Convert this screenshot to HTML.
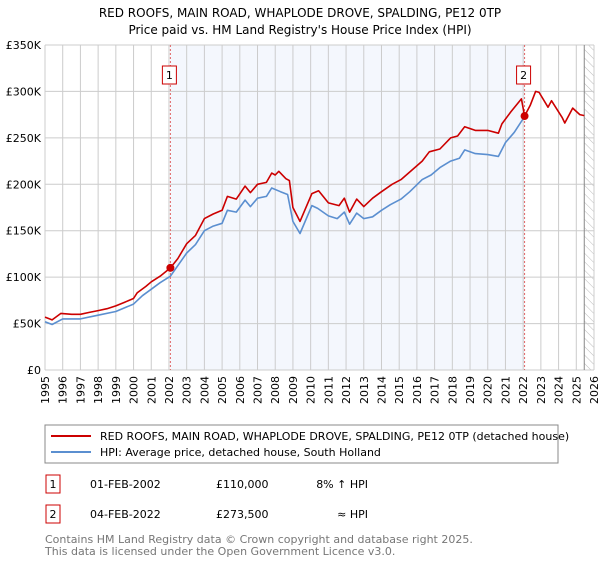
<!DOCTYPE html>
<html><head><meta charset="utf-8"><style>
body{margin:0;width:600px;height:560px;background:#fff;font-family:"DejaVu Sans","Liberation Sans",sans-serif;overflow:hidden}
</style></head><body>
<svg id="chart" width="600" height="560" xmlns="http://www.w3.org/2000/svg" font-family="DejaVu Sans, Liberation Sans, sans-serif">
<text x="300" y="17" text-anchor="middle" font-size="12">RED ROOFS, MAIN ROAD, WHAPLODE DROVE, SPALDING, PE12 0TP</text>
<text x="300" y="34" text-anchor="middle" font-size="12">Price paid vs. HM Land Registry's House Price Index (HPI)</text>
<defs><pattern id="hatch" width="6" height="6" patternUnits="userSpaceOnUse" patternTransform="rotate(-45)"><line x1="0" y1="0" x2="0" y2="6" stroke="#bbb" stroke-width="1"/></pattern></defs>
<g id="grid"></g><g id="axes"></g><g id="series"></g>
<rect x="45" y="425" width="513" height="38" fill="#fff" stroke="#888"/>
<line x1="51" y1="436" x2="91" y2="436" stroke="#cc0000" stroke-width="2"/>
<text x="100" y="440" font-size="11">RED ROOFS, MAIN ROAD, WHAPLODE DROVE, SPALDING, PE12 0TP (detached house)</text>
<line x1="51" y1="452" x2="91" y2="452" stroke="#5b8fd0" stroke-width="2"/>
<text x="100" y="456" font-size="11">HPI: Average price, detached house, South Holland</text>
<g font-size="11">
<rect x="46" y="475" width="14" height="18" fill="#fff" stroke="#cc0000"/>
<text x="53" y="488" text-anchor="middle">1</text>
<text x="90" y="488">01-FEB-2002</text>
<text x="216" y="488">£110,000</text>
<text x="368" y="488" text-anchor="end">8% ↑ HPI</text>
<rect x="46" y="505" width="14" height="18" fill="#fff" stroke="#cc0000"/>
<text x="53" y="518" text-anchor="middle">2</text>
<text x="90" y="518">04-FEB-2022</text>
<text x="216" y="518">£273,500</text>
<text x="368" y="518" text-anchor="end">≈ HPI</text>
</g>
<text x="45" y="543" font-size="11" fill="#777">Contains HM Land Registry data © Crown copyright and database right 2025.</text>
<text x="45" y="555" font-size="11" fill="#777">This data is licensed under the Open Government Licence v3.0.</text>
</svg>
<script>
const yearTicks=[1995,1996,1997,1998,1999,2000,2001,2002,2003,2004,2005,2006,2007,2008,2009,2010,2011,2012,2013,2014,2015,2016,2017,2018,2019,2020,2021,2022,2023,2024,2025,2026];
const priceTicks=[0,50000,100000,150000,200000,250000,300000,350000];
const priceTickLabels=["£0","£50K","£100K","£150K","£200K","£250K","£300K","£350K"];
const propYears=[1995.0,1995.4,1995.9,1996.5,1997.0,1997.5,1998.0,1998.5,1999.0,1999.5,2000.0,2000.2,2000.7,2001.0,2001.5,2002.08,2002.5,2003.0,2003.5,2004.0,2004.5,2005.0,2005.3,2005.8,2006.3,2006.6,2007.0,2007.5,2007.8,2008.0,2008.2,2008.6,2008.8,2009.0,2009.4,2010.07,2010.45,2011.0,2011.6,2011.9,2012.2,2012.6,2013.0,2013.5,2014.0,2014.6,2015.1,2015.7,2016.3,2016.7,2017.3,2017.9,2018.3,2018.7,2019.3,2020.0,2020.6,2020.8,2021.3,2021.9,2022.08,2022.4,2022.7,2022.9,2023.4,2023.6,2024.2,2024.35,2024.8,2025.2,2025.45];
const propValues=[57000,54000,61000,60000,60000,62000,64000,66000,69000,73000,77000,83000,90000,95000,101000,110000,120000,136000,145000,163000,168000,172000,187000,184000,198000,191000,200000,202000,212000,210000,214000,206000,204000,175000,160000,190000,193000,180000,177000,185000,170000,184000,176000,185000,192000,200000,205000,215000,225000,235000,238000,250000,252000,262000,258000,258000,255000,265000,278000,292000,273500,285000,300000,299000,283000,290000,272000,266000,282000,275000,274000];
const hpiYears=[1995.0,1995.4,1996.0,1997.0,1998.0,1999.0,2000.0,2000.5,2001.0,2001.5,2002.08,2003.0,2003.5,2004.0,2004.5,2005.0,2005.3,2005.8,2006.3,2006.6,2007.0,2007.5,2007.8,2008.3,2008.7,2009.0,2009.4,2010.07,2010.4,2011.0,2011.5,2011.9,2012.2,2012.6,2013.0,2013.5,2014.0,2014.5,2015.1,2015.6,2016.3,2016.8,2017.3,2017.9,2018.4,2018.7,2019.3,2020.0,2020.6,2021.0,2021.5,2022.08];
const hpiValues=[52000,49000,55000,55000,59000,63000,71000,80000,87000,94000,101000,126000,135000,150000,155000,158000,172000,170000,183000,176000,185000,187000,196000,192000,189000,160000,147000,177000,174000,166000,163000,170000,157000,169000,163000,165000,172000,178000,184000,192000,205000,210000,218000,225000,228000,237000,233000,232000,230000,245000,256000,273000];
const saleYears=[2002.08,2022.08];
const saleValues=[110000,273500];
const saleLabels=["1","2"];
const NS="http://www.w3.org/2000/svg";
const L=45,R=594,T=45,B=370;
function xs(y){return L+(y-1995)/(2026-1995)*(R-L);}
function ys(v){return B-v/350000*(B-T);}
function mk(tag,attrs,parent){const e=document.createElementNS(NS,tag);for(const k in attrs)e.setAttribute(k,attrs[k]);parent.appendChild(e);return e;}
const grid=document.getElementById('grid'),axes=document.getElementById('axes'),ser=document.getElementById('series');
let e=mk('rect',{x:xs(saleYears[0]),y:T,width:xs(saleYears[1])-xs(saleYears[0]),height:B-T,fill:'#f4f7fd'},grid);


e=mk('rect',{x:xs(2025.45),y:T,width:R-xs(2025.45),height:B-T,fill:'url(#hatch)'},grid);


yearTicks.forEach(yr=>{
 const x=xs(yr);
 let g=mk('line',{x1:x,y1:T,x2:x,y2:B,stroke:'#ccc','stroke-width':1},grid);
 
 
 let t=mk('text',{x:0,y:0,'font-size':11,'text-anchor':'end',transform:`translate(${x+4},${B+6}) rotate(-90)`},axes);
 t.textContent=yr;
 
 
});
priceTicks.forEach((v,i)=>{
 const y=ys(v);
 let g=mk('line',{x1:L,y1:y,x2:R,y2:y,stroke:'#ccc','stroke-width':1},grid);
 
 
 let t=mk('text',{x:L-4,y:y+4,'font-size':11,'text-anchor':'end'},axes);
 t.textContent=priceTickLabels[i];
 
 
});
e=mk('line',{x1:xs(2025.45),y1:T,x2:xs(2025.45),y2:B,stroke:'#888','stroke-width':1},grid);


saleYears.forEach((yr,i)=>{
 const x=xs(yr);
 let l=mk('line',{x1:x,y1:T,x2:x,y2:B,stroke:'#e06666','stroke-width':1,'stroke-dasharray':'2,2'},grid);
 
 
 let r=mk('rect',{x:x-8,y:T+21,width:14,height:18,fill:'#fff',stroke:'#cc0000'},ser);
 
 
 let t=mk('text',{x:x-1,y:T+34,'font-size':11,'text-anchor':'middle'},ser);
 t.textContent=saleLabels[i];
 
 
});
function line(xa,va,color,name){
 const d=xa.map((x,i)=>(i?'L':'M')+xs(x).toFixed(1)+','+ys(va[i]).toFixed(1)).join('');
 const p=mk('path',{d:d,fill:'none',stroke:color,'stroke-width':1.6,'stroke-linejoin':'round'},ser);
 
 
}
line(hpiYears,hpiValues,'#5b8fd0','hpi-line');
line(propYears,propValues,'#cc0000','property-price-line');
saleYears.forEach((yr,i)=>{
 const c=mk('circle',{cx:xs(yr),cy:ys(saleValues[i]),r:4,fill:'#cc0000'},ser);
 
 
});
</script>
</body></html>
